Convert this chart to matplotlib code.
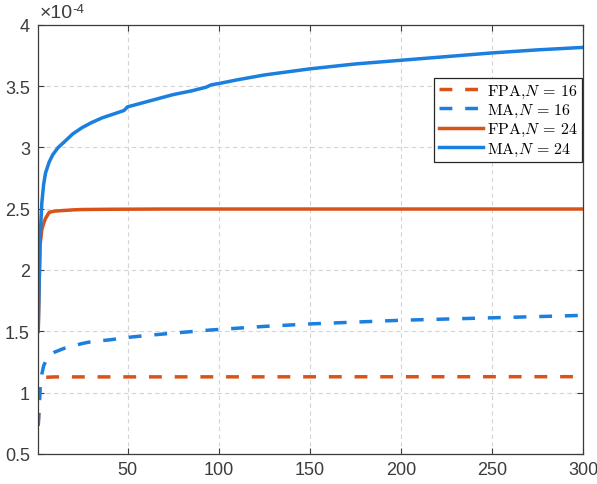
import matplotlib

matplotlib.use("Agg")
import matplotlib.pyplot as plt
from matplotlib.font_manager import FontProperties

# iteration index (x) and error values in units of 1e-4
fpa16_x = [1, 2, 3, 4, 5, 10, 300]
fpa16_y = [0.73, 1.05, 1.10, 1.12, 1.125, 1.128, 1.13]

ma16_x = [1, 2, 3, 4, 6, 8, 10, 15, 20, 25, 30, 40, 50, 60, 75, 95, 125, 150, 175,
          200, 225, 250, 275, 300]
ma16_y = [0.73, 1.03, 1.15, 1.22, 1.28, 1.31, 1.33, 1.36, 1.38, 1.40, 1.415, 1.43,
          1.45, 1.465, 1.485, 1.51, 1.54, 1.56, 1.575, 1.59, 1.60, 1.61, 1.62, 1.63]

fpa24_x = [1, 2, 3, 4, 5, 7, 10, 15, 20, 25, 40, 70, 100, 300]
fpa24_y = [1.50, 2.20, 2.33, 2.38, 2.42, 2.47, 2.48, 2.485, 2.49, 2.493, 2.495,
           2.497, 2.497, 2.497]

ma24_x = [1, 2, 3, 4, 5, 7, 9, 12, 15, 20, 25, 30, 36, 42, 48, 50, 55, 65, 75, 85,
          93, 96, 100, 110, 125, 150, 175, 200, 225, 250, 275, 300]
ma24_y = [1.50, 2.25, 2.55, 2.70, 2.79, 2.88, 2.94, 3.00, 3.04, 3.11, 3.16, 3.20,
          3.24, 3.27, 3.30, 3.33, 3.35, 3.39, 3.43, 3.46, 3.49, 3.51, 3.52, 3.55,
          3.59, 3.64, 3.68, 3.71, 3.74, 3.77, 3.795, 3.815]

labels = [r"FPA,$N\,=\,16$", r"MA,$N\,=\,16$", r"FPA,$N\,=\,24$", r"MA,$N\,=\,24$"]
x_ticks = [50, 100, 150, 200, 250, 300]
y_ticks = [0.5, 1, 1.5, 2, 2.5, 3, 3.5, 4]

orange = "#D95319"
blue = "#1A7FDE"
axis_color = "#3c3c3c"

plt.rcParams["font.family"] = ["Liberation Sans", "DejaVu Sans"]

fig = plt.figure(figsize=(5.97, 4.85), dpi=100)
ax = fig.add_axes([0.064, 0.062, 0.913, 0.885])

lw = 2.5
ax.plot(fpa16_x, fpa16_y, color=orange, lw=lw, dashes=(3.7, 3.7), label=labels[0])
ax.plot(ma16_x, ma16_y, color=blue, lw=lw, dashes=(3.7, 3.7), label=labels[1])
ax.plot(fpa24_x, fpa24_y, color=orange, lw=lw, label=labels[2])
ax.plot(ma24_x, ma24_y, color=blue, lw=lw, label=labels[3])

ax.set_xlim(1, 300)
ax.set_ylim(0.5, 4)
ax.set_xticks(x_ticks)
ax.set_yticks(y_ticks)
ax.set_yticklabels([f"{v:g}" for v in y_ticks])

ax.grid(True, color="#d4d4d4", lw=0.8, linestyle=(0, (4, 3)))
ax.set_axisbelow(True)
ax.tick_params(direction="in", length=4, width=0.8, colors=axis_color,
               labelsize=13, top=True, right=True, pad=5)
ax.tick_params(axis="y", pad=6)
for spine in ax.spines.values():
    spine.set_color(axis_color)
    spine.set_linewidth(0.9)

# exponent multiplier above the y axis
fig.text(0.066, 0.954, "\u00d710", fontsize=14, color=axis_color, va="bottom")
fig.text(0.121, 0.968, "-4", fontsize=9.5, color=axis_color, va="bottom")

leg_font = FontProperties(family="cmr10", size=11.5, math_fontfamily="cm")
leg = ax.legend(loc="upper right", bbox_to_anchor=(0.998, 0.876), prop=leg_font,
                handlelength=2.75, handletextpad=0.25, borderpad=0.3,
                labelspacing=0.14, borderaxespad=0.0, fancybox=False,
                framealpha=1.0, edgecolor="#262626")
leg.get_frame().set_linewidth(0.9)

fig.savefig("out.png", dpi=100)
